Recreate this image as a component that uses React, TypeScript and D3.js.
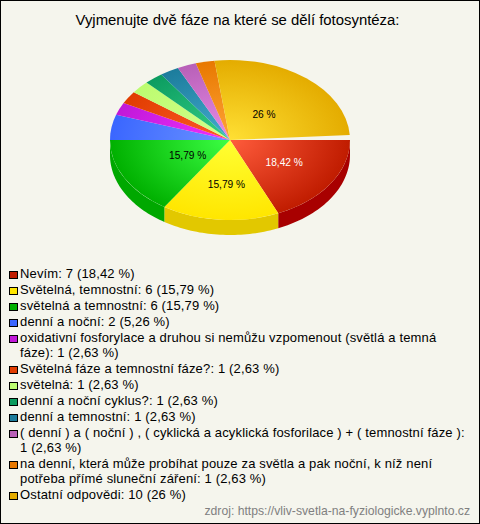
import React from "react";
import * as d3 from "d3";

const WIDTH = 480;
const HEIGHT = 524;
const title = "Vyjmenujte dvě fáze na které se dělí fotosyntéza:";
const source = "zdroj: https://vliv-svetla-na-fyziologicke.vyplnto.cz";
const values = [7, 6, 6, 2, 1, 1, 1, 1, 1, 1, 1, 10];
const pieLabels = ["18,42 %", "15,79 %", "15,79 %", "", "", "", "", "", "", "", "", "26 %"];
const labelColors = ["#ffffff", "#000000", "#000000", "", "", "", "", "", "", "", "", "#000000"];
const labelRadii = [0.52, 0.56, 0.42, 0, 0, 0, 0, 0, 0, 0, 0, 0.42];
const edgeColors = ["#c01c00", "#ffe600", "#00b000", "#3a66ff", "#c018d8", "#e03c00", "#bcfc70", "#0c9c60", "#1c7c9c", "#b860b8", "#e87800", "#e4ac00"];
const centerColors = ["#ff5c3c", "#ffff33", "#3cff44", "#6c94ff", "#f030ff", "#ff5c28", "#d4ff8c", "#34d088", "#44acd0", "#e88ce8", "#ffa438", "#ffe034"];
const wallColors = ["#a80000", "#e2c800", "#00a800", "#2a50d0", "#a010b0", "#c03000", "#a0d860", "#088050", "#106080", "#985098", "#c06000", "#c49000"];
const legendLines: string[][] = [
  ["Nevím: 7 (18,42 %)"],
  ["Světelná, temnostní: 6 (15,79 %)"],
  ["světelná a temnostní: 6 (15,79 %)"],
  ["denní a noční: 2 (5,26 %)"],
  ["oxidativní fosforylace a druhou si nemůžu vzpomenout (světlá a temná", "fáze): 1 (2,63 %)"],
  ["Světelná fáze a temnostní fáze?: 1 (2,63 %)"],
  ["světelná: 1 (2,63 %)"],
  ["denní a noční cyklus?: 1 (2,63 %)"],
  ["denní a temnostní: 1 (2,63 %)"],
  ["( denní ) a ( noční ) , ( cyklická a acyklická fosforilace ) + ( temnostní fáze ):", "1 (2,63 %)"],
  ["na denní, která může probíhat pouze za světla a pak noční, k níž není", "potřeba přímé sluneční záření: 1 (2,63 %)"],
  ["Ostatní odpovědi: 10 (26 %)"],
];

const cx = 230, cy = 140, rx = 120, ry = 80, depth = 15;
const font = "'Liberation Sans', Arial, sans-serif";
const deg = Math.PI / 180;
const rowStep = 16, lineStep = 15;

export default function App() {
  const pie = d3.pie<number>().sort(null).startAngle(90 * deg).endAngle(450 * deg);
  // the picture's upper-left slices drift slightly and leave a thin gap before the first slice
  const warp = d3.scaleLinear().domain([270, 355.26, 450].map((d) => d * deg)).range([270, 352.6, 446.4].map((d) => d * deg));
  const slices = pie(values).map((s) => ({
    ...s,
    startAngle: s.startAngle < 270 * deg ? s.startAngle : warp(s.startAngle),
    endAngle: s.endAngle <= 270 * deg ? s.endAngle : warp(s.endAngle),
  }));
  const arc = d3.arc<d3.PieArcDatum<number>>().innerRadius(0).outerRadius(1);
  const xs = d3.scaleLinear().domain([-1, 1]).range([cx - rx, cx + rx]);
  const ys = d3.scaleLinear().domain([-1, 1]).range([cy - ry, cy + ry]);

  const wall = (a0: number, a1: number) => {
    const s = Math.max(a0, Math.PI / 2), e = Math.min(a1, Math.PI * 1.5);
    if (e <= s) return null;
    const angles = d3.range(0, 41).map((i) => s + ((e - s) * i) / 40);
    const top = angles.map((a) => [xs(Math.sin(a)), ys(-Math.cos(a))] as [number, number]);
    const bottom = top.map(([x, y]) => [x, y + depth] as [number, number]).reverse();
    return d3.line()([...top, ...bottom]) + "Z";
  };

  let y = 278;
  const legendRows = legendLines.map((lines, i) => {
    const row = { lines, i, y };
    y += rowStep + (lines.length - 1) * lineStep;
    return row;
  });

  return (
    <svg width={WIDTH} height={HEIGHT} style={{ position: "absolute", left: 0, top: 0 }} fontFamily={font}>
      <defs>
        {slices.map((_, i) => (
          <radialGradient key={i} id={`g${i}`} gradientUnits="userSpaceOnUse" cx={0} cy={0} r={1}>
            <stop offset="0" stopColor={centerColors[i]} />
            <stop offset="1" stopColor={edgeColors[i]} />
          </radialGradient>
        ))}
      </defs>
      <rect x={0.5} y={0.5} width={WIDTH - 1} height={HEIGHT - 1} fill="#f5f5ed" stroke="#000" />
      <text x={237.5} y={25} textAnchor="middle" fontSize={14.9} fill="#000">{title}</text>

      {slices.map((s, i) => {
        const d = wall(s.startAngle, s.endAngle);
        return d ? <path key={i} d={d} fill={wallColors[i]} /> : null;
      })}
      {slices.map((s, i) => (
        <path
          key={i}
          d={arc(s) ?? ""}
          fill={`url(#g${i})`}
          transform={`translate(${cx},${cy}) scale(${rx},${ry})`}
        />
      ))}
      {slices.map((s, i) => {
        if (!pieLabels[i]) return null;
        const mid = (s.startAngle + s.endAngle) / 2;
        const k = labelRadii[i];
        return (
          <text
            key={i}
            x={xs(k * Math.sin(mid)) + 2}
            y={ys(-k * Math.cos(mid)) + 3.5}
            textAnchor="middle"
            fontSize={10.2}
            fill={labelColors[i]}
          >
            {pieLabels[i]}
          </text>
        );
      })}

      {legendRows.map((r) => (
        <g key={r.i}>
          <rect x={9.5} y={r.y - 6.5} width={8} height={7} fill={edgeColors[r.i]} stroke="#000" strokeWidth={1} />
          {r.lines.map((t, j) => (
            <text key={j} x={20} y={r.y + j * lineStep} fontSize={13} letterSpacing={0.15} fill="#000">{t}</text>
          ))}
        </g>
      ))}
      <text x={470} y={515} textAnchor="end" fontSize={12.2} fill="#808080">{source}</text>
    </svg>
  );
}
